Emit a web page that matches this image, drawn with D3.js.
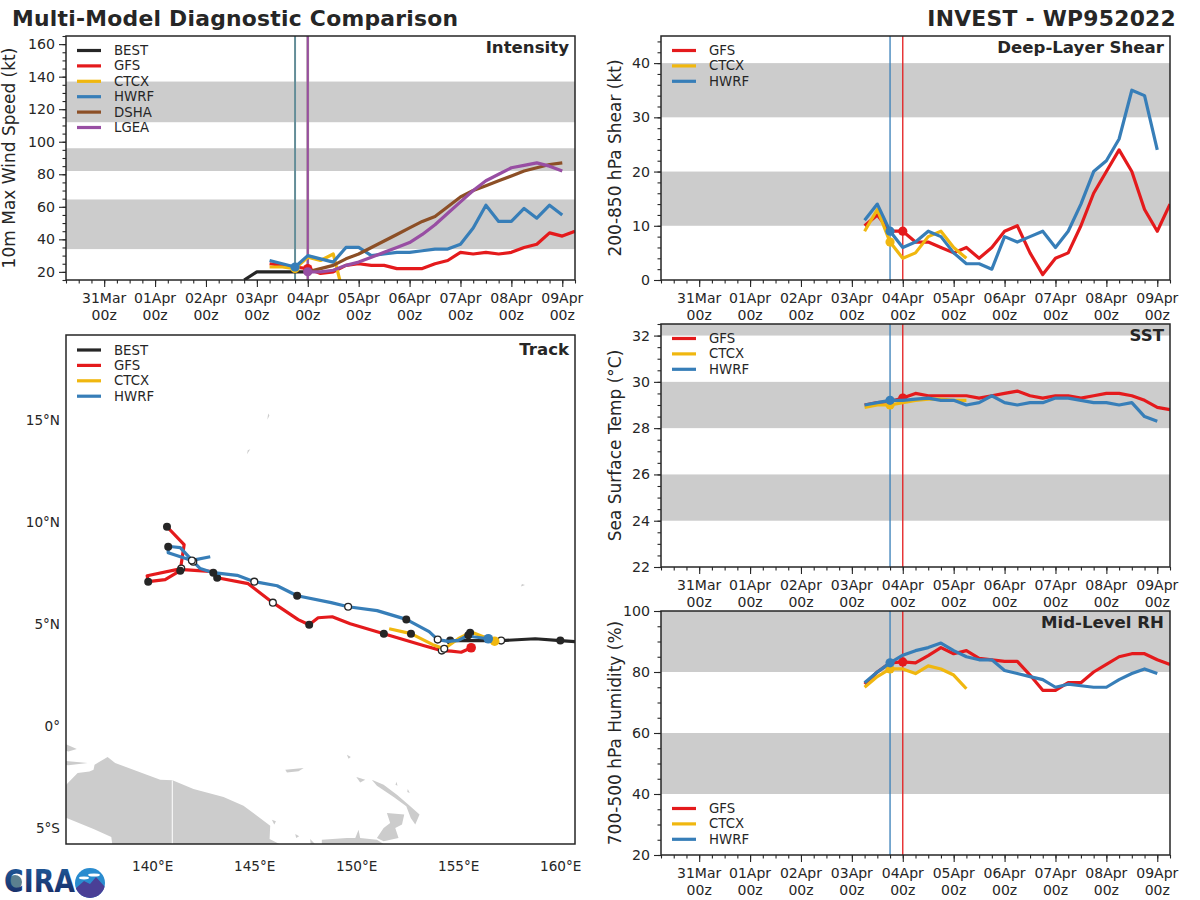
<!DOCTYPE html>
<html>
<head>
<meta charset="utf-8">
<style>
  html, body { margin: 0; padding: 0; background: #fff; }
  text { font-family: "DejaVu Sans", sans-serif; fill: #262626; }
</style>
<script src="https://d3js.org/d3.v7.min.js"></script>
</head>
<body>
<svg id="chart" width="1200" height="900"></svg>
<script>
// Time axis, hours after 31Mar 00z
var dayLabels = ["31Mar", "01Apr", "02Apr", "03Apr", "04Apr", "05Apr", "06Apr", "07Apr", "08Apr", "09Apr"];
var dayHours = [0, 24, 48, 72, 96, 120, 144, 168, 192, 216];

// Intensity (kt)
var bestWind = [15, 20, 20, 20, 20, 20];
var gfsWind = [25, 24, 23, 22, 19, 20, 24, 25, 24, 24, 22, 22, 22, 25, 27, 32, 31, 32, 31, 32, 35, 37, 44, 42, 45];
var ctcxWind = [23, 23, 22, 29, 27, 31, 0];
var hwrfWind = [27, 25, 23, 30, 28, 26, 35, 35, 30, 31, 32, 32, 33, 34, 34, 37, 47, 61, 51, 51, 59, 53, 61, 55];
var dshaWind = [20, 22, 24, 28, 31, 35, 39, 43, 47, 51, 54, 60, 66, 70, 73, 76, 79, 82, 84, 86, 87];
var lgeaWind = [20, 20, 21, 24, 26, 29, 32, 35, 38, 43, 49, 56, 63, 70, 76, 80, 84, 85.5, 87, 85, 82];

// Deep-layer shear (kt)
var gfsShear = [10, 12, 9, 9, 7, 7, 6, 5, 6, 4, 6, 9, 10, 5, 1, 4, 5, 10, 16, 20, 24, 20, 13, 9, 14];
var ctcxShear = [9, 13, 7, 4, 5, 8, 9, 6, 4];
var hwrfShear = [11, 14, 9, 6, 7, 9, 8, 5, 3, 3, 2, 8, 7, 8, 9, 6, 9, 14, 20, 22, 26, 35, 34, 24];

// Sea surface temperature (C)
var gfsSst = [29, 29.1, 29.15, 29.3, 29.5, 29.4, 29.4, 29.4, 29.4, 29.3, 29.4, 29.5, 29.6, 29.4, 29.3, 29.4, 29.4, 29.3, 29.4, 29.5, 29.5, 29.4, 29.2, 28.9, 28.8];
var ctcxSst = [28.9, 29, 29, 29.1, 29.2, 29.25, 29.25, 29.2, 29.2];
var hwrfSst = [29, 29.1, 29.2, 29.2, 29.25, 29.3, 29.2, 29.2, 29, 29.1, 29.4, 29.1, 29, 29.1, 29.1, 29.3, 29.3, 29.2, 29.1, 29.1, 29, 29.1, 28.5, 28.3];

// Mid-level humidity (%)
var gfsRh = [76, 80, 83, 83.3, 83, 85.4, 88, 86, 87, 84.5, 84, 83.5, 83.5, 79, 74, 74, 76.5, 76.5, 80, 82.5, 85, 86, 86, 84, 82.5];
var ctcxRh = [75, 78.5, 81, 81, 79.5, 82, 81, 79, 74.5];
var hwrfRh = [76.5, 80, 83, 85.5, 87, 88, 89.5, 87, 85, 84, 84, 80.5, 79.5, 78.5, 77.5, 75, 76, 75.5, 75, 75, 77.5, 79.5, 81, 79.5];

// Track positions, mark: 0 none, 1 filled dot, 2 open dot, 3 model colour dot
var bestLon = [161.45, 159.98, 158.75, 157.08, 155.56, 154.58];
var bestLat = [4.07, 4.17, 4.26, 4.17, 4.17, 4.17];
var bestMark = [0, 1, 0, 2, 0, 1];
var gfsLon = [155.61, 155.12, 154.63, 154.17, 153.31, 151.33, 149.68, 148.8, 148.11, 147.67, 147.13, 145.89, 144.68, 143.16, 142.97, 141.5, 141.4, 139.73, 139.78, 140.61, 141.35, 141.54, 140.7];
var gfsLat = [3.82, 3.6, 3.65, 3.68, 3.92, 4.51, 5, 5.34, 5.29, 4.95, 5.2, 6.03, 6.96, 7.25, 7.55, 7.65, 7.7, 7.35, 7.06, 7.16, 7.6, 8.87, 9.75];
var gfsMark = [3, 0, 0, 2, 0, 1, 0, 0, 0, 1, 0, 2, 0, 1, 0, 0, 2, 0, 1, 0, 1, 0, 1];
var ctcxLon = [156.76, 155.71, 155.56, 154.98, 154.29, 153.73, 152.66, 151.59];
var ctcxLat = [4.14, 4.56, 4.56, 4.26, 3.77, 3.97, 4.51, 4.75];
var ctcxMark = [3, 0, 1, 0, 2, 0, 1, 0];
var hwrfLon = [156.45, 155.71, 155.47, 154.98, 154.49, 153.97, 153.55, 152.43, 151, 149.58, 148.75, 147.08, 146.1, 144.98, 144.14, 142.97, 142.33, 141.99, 141.35, 140.96, 140.76, 140.76, 141.92, 142.82];
var hwrfLat = [4.26, 4.36, 4.43, 4.18, 4.13, 4.22, 4.61, 5.21, 5.64, 5.83, 6.03, 6.37, 6.86, 7.06, 7.37, 7.5, 7.7, 8.04, 8.73, 8.77, 8.77, 8.48, 8.1, 8.28];
var hwrfMark = [3, 0, 1, 0, 0, 2, 0, 1, 0, 2, 0, 1, 0, 2, 0, 1, 0, 2, 0, 0, 1, 0, 2, 0];

// Land outlines, [lon, lat]
var landShapes = [
  [[135.6, -3.06], [135.9, -2.75], [136.32, -2.32], [136.9, -2.25], [137.1, -2.16], [137.15, -1.91], [137.79, -1.54], [138.16, -1.83], [139.71, -2.4], [140.37, -2.65], [140.97, -2.68], [142, -3.1], [143.47, -3.5], [144.45, -3.92], [145.11, -4.41], [145.76, -4.9], [145.73, -5.56], [146.41, -5.9], [138.03, -5.9], [137.97, -5.46], [137.1, -5.07], [135.6, -4.45]],
  [[135.6, -0.85], [136.28, -1.14], [135.87, -1.26], [135.6, -1.2]],
  [[135.6, -1.72], [136.81, -1.83], [135.87, -1.94], [135.6, -1.9]],
  [[146.5, -2.16], [147.4, -2.08], [147.15, -2.24], [146.58, -2.29]],
  [[149.52, -1.42], [149.71, -1.54], [149.6, -1.62]],
  [[149.98, -2.52], [150.42, -2.65], [150.17, -2.78]],
  [[150.74, -2.65], [151.32, -2.89], [151.97, -3.38], [152.54, -3.87], [153.08, -4.36], [152.87, -4.85], [152.65, -4.53], [152.43, -3.95], [151.81, -3.5], [150.99, -2.94]],
  [[151.48, -4.28], [152.33, -4.36], [152.22, -4.85], [151.89, -5.02], [152.05, -5.51], [151.32, -5.67], [150.99, -5.51], [151.32, -5.02], [151.64, -4.77], [151.56, -4.53]],
  [[148.29, -5.59], [149.52, -5.51], [149.93, -5.51], [150.09, -5.1], [150.17, -5.51], [150.99, -5.59], [151.48, -5.9], [148.29, -5.9]],
  [[147.72, -5.56], [148.05, -5.9], [147.75, -5.9]],
  [[145.84, -4.61], [146.04, -4.69], [145.96, -4.85]],
  [[146.99, -5.31], [147.18, -5.42], [147.03, -5.51]],
  [[151.95, -2.75], [152, -2.95], [151.9, -2.9]],
  [[152.5, -3.1], [152.6, -3.3], [152.48, -3.25]],
  [[145.62, 15.0], [145.72, 15.2], [145.66, 15.3]],
  [[144.62, 13.3], [144.78, 13.55], [144.66, 13.5]],
  [[158.05, 6.82], [158.25, 6.9], [158.1, 6.95]]
];
var borderLon = [140.96, 140.96];
var borderLat = [-2.68, -5.9];

var colors = {
  BEST: "#262626",
  GFS: "#e41a1c",
  CTCX: "#f0b70f",
  HWRF: "#377eb8",
  DSHA: "#8c4f26",
  LGEA: "#984ea3"
};
var ink = "#262626";
var bandGrey = "#cccccc";

var svg = d3.select("#chart");
var clipCount = 0;

// 6 hourly series starting at a given hour
function toPoints(values, startHour) {
  return values.map((v, i) => [startHour + i * 6, v]);
}

function addClip(x0, y0, w, h) {
  var id = "clip" + (clipCount++);
  svg.append("clipPath").attr("id", id)
    .append("rect").attr("x", x0).attr("y", y0).attr("width", w).attr("height", h);
  return "url(#" + id + ")";
}

function drawLegend(x0, y0, names) {
  names.forEach((name, i) => {
    var y = y0 + i * 15.4;
    svg.append("line").attr("x1", x0).attr("x2", x0 + 24).attr("y1", y).attr("y2", y)
      .attr("stroke", colors[name]).attr("stroke-width", 3.2);
    svg.append("text").attr("x", x0 + 37).attr("y", y + 4.5)
      .attr("font-size", 13.3).text(name);
  });
}

function drawFrame(box) {
  svg.append("rect").attr("x", box.x).attr("y", box.y)
    .attr("width", box.w).attr("height", box.h)
    .attr("fill", "none").attr("stroke", ink).attr("stroke-width", 1.5);
}

function drawPanel(opt) {
  var box = opt.box;
  var x = d3.scaleLinear().domain([-18, 222]).range([box.x, box.x + box.w]);
  var y = d3.scaleLinear().domain(opt.yDomain).range([box.y + box.h, box.y]);
  var clip = addClip(box.x, box.y, box.w, box.h);
  var plot = svg.append("g").attr("clip-path", clip);

  // Grey intensity / threshold bands
  opt.bands.forEach((b) => {
    plot.append("rect").attr("x", box.x).attr("width", box.w)
      .attr("y", y(b[1])).attr("height", y(b[0]) - y(b[1]))
      .attr("fill", bandGrey);
  });

  // Initial time markers
  opt.initLines.forEach((l) => {
    plot.append("line").attr("x1", x(l.hour)).attr("x2", x(l.hour))
      .attr("y1", box.y).attr("y2", box.y + box.h)
      .attr("stroke", l.color || colors[l.name]).attr("stroke-width", l.width);
  });

  var line = d3.line().x((d) => x(d[0])).y((d) => y(d[1]));
  opt.series.forEach((s) => {
    plot.append("path").datum(toPoints(s.values, s.start))
      .attr("d", line).attr("fill", "none")
      .attr("stroke", colors[s.name]).attr("stroke-width", 3.2)
      .attr("stroke-linejoin", "round");
    if (s.initHour !== undefined) {
      plot.append("circle").attr("cx", x(s.initHour))
        .attr("cy", y(s.values[(s.initHour - s.start) / 6]))
        .attr("r", 4.6).attr("fill", colors[s.name]);
    }
  });

  // Axes
  var left = svg.append("g").attr("transform", "translate(" + box.x + ",0)")
    .call(d3.axisLeft(y).tickValues(opt.yTicks).tickSize(7).tickPadding(4).tickFormat(d3.format("d")));
  var leftMinor = svg.append("g").attr("transform", "translate(" + box.x + ",0)")
    .call(d3.axisLeft(y).tickValues(opt.yMinor).tickSize(3.5).tickFormat(""));
  var bottomY = box.y + box.h;
  var bottomMinor = svg.append("g").attr("transform", "translate(0," + bottomY + ")")
    .call(d3.axisBottom(x).tickValues(d3.range(-18, 223, 6)).tickSize(3.5).tickFormat(""));
  var bottom = svg.append("g").attr("transform", "translate(0," + bottomY + ")")
    .call(d3.axisBottom(x).tickValues(dayHours).tickSize(7).tickFormat(""));
  [left, leftMinor, bottom, bottomMinor].forEach((g) => {
    g.select(".domain").remove();
    g.selectAll("line").attr("stroke", ink).attr("stroke-width", 1.1);
  });
  left.selectAll("text").attr("font-size", 14.2).attr("font-family", "DejaVu Sans").attr("fill", ink);

  dayHours.forEach((h, i) => {
    var t = svg.append("text").attr("text-anchor", "middle").attr("font-size", 14);
    t.append("tspan").attr("x", x(h)).attr("y", bottomY + 22.5).text(dayLabels[i]);
    t.append("tspan").attr("x", x(h)).attr("y", bottomY + 40).text("00z");
  });

  svg.append("text").attr("text-anchor", "middle")
    .attr("transform", "translate(" + opt.labelX + "," + (box.y + box.h / 2) + ") rotate(-90)")
    .attr("font-size", 17).text(opt.yLabel);

  drawFrame(box);

  svg.append("text").attr("x", box.x + box.w - 6).attr("y", box.y + 17)
    .attr("text-anchor", "end").attr("font-size", 16.6).attr("font-weight", "bold")
    .text(opt.title);

  opt.legends.forEach((l) => drawLegend(box.x + 11, l.y, l.names));
}

// Title
svg.append("text").attr("x", 12).attr("y", 26).attr("font-size", 21.85)
  .attr("font-weight", "bold").attr("letter-spacing", 0.25)
  .text("Multi-Model Diagnostic Comparison");
svg.append("text").attr("x", 1176).attr("y", 26).attr("text-anchor", "end").attr("font-size", 21.85)
  .attr("font-weight", "bold").attr("letter-spacing", 0.25)
  .text("INVEST - WP952022");

var init18 = 90;
var init00 = 96;
var firstHour = 78;

drawPanel({
  box: { x: 66, y: 36, w: 509, h: 244 },
  yDomain: [15, 165],
  yTicks: d3.range(20, 161, 20),
  yMinor: d3.range(15, 166, 5),
  yLabel: "10m Max Wind Speed (kt)",
  labelX: 15,
  title: "Intensity",
  bands: [[34, 64.5], [82, 96], [112, 137]],
  initLines: [
    { hour: init18, name: "CTCX", color: "#98a07a", width: 2 },
    { hour: init18, name: "HWRF", width: 1 },
    { hour: init00, name: "DSHA", color: "#a08a86", width: 2.6 },
    { hour: init00, name: "LGEA", width: 1.9 }
  ],
  series: [
    { name: "BEST", values: bestWind, start: 66 },
    { name: "GFS", values: gfsWind, start: firstHour, initHour: init00 },
    { name: "CTCX", values: ctcxWind, start: firstHour, initHour: init18 },
    { name: "HWRF", values: hwrfWind, start: firstHour, initHour: init18 },
    { name: "DSHA", values: dshaWind, start: init00 },
    { name: "LGEA", values: lgeaWind, start: init00, initHour: init00 }
  ],
  legends: [{ y: 50.5, names: ["BEST", "GFS", "CTCX", "HWRF", "DSHA", "LGEA"] }]
});

var rightLines = [
  { hour: init18, name: "HWRF", width: 1.3 },
  { hour: init00, name: "GFS", width: 1.3 }
];
function modelSeries(gfs, ctcx, hwrf) {
  return [
    { name: "GFS", values: gfs, start: firstHour, initHour: init00 },
    { name: "CTCX", values: ctcx, start: firstHour, initHour: init18 },
    { name: "HWRF", values: hwrf, start: firstHour, initHour: init18 }
  ];
}
var modelNames = ["GFS", "CTCX", "HWRF"];

drawPanel({
  box: { x: 661, y: 36, w: 509, h: 244 },
  yDomain: [0, 45],
  yTicks: d3.range(0, 41, 10),
  yMinor: d3.range(0, 46, 2),
  yLabel: "200-850 hPa Shear (kt)",
  labelX: 621,
  title: "Deep-Layer Shear",
  bands: [[10, 20], [30, 40]],
  initLines: rightLines,
  series: modelSeries(gfsShear, ctcxShear, hwrfShear),
  legends: [{ y: 50.5, names: modelNames }]
});

drawPanel({
  box: { x: 661, y: 324, w: 509, h: 243 },
  yDomain: [22, 32.5],
  yTicks: d3.range(22, 33, 2),
  yMinor: d3.range(22, 32.6, 0.5),
  yLabel: "Sea Surface Temp (°C)",
  labelX: 621,
  title: "SST",
  bands: [[24, 26], [28, 30], [32, 34]],
  initLines: rightLines,
  series: modelSeries(gfsSst, ctcxSst, hwrfSst),
  legends: [{ y: 338.5, names: modelNames }]
});

drawPanel({
  box: { x: 661, y: 611, w: 509, h: 244 },
  yDomain: [20, 100],
  yTicks: d3.range(20, 101, 20),
  yMinor: d3.range(20, 101, 5),
  yLabel: "700-500 hPa Humidity (%)",
  labelX: 621,
  title: "Mid-Level RH",
  bands: [[40, 60], [80, 100]],
  initLines: rightLines,
  series: modelSeries(gfsRh, ctcxRh, hwrfRh),
  legends: [{ y: 808.5, names: modelNames }]
});

// Track map
function drawTrack() {
  var box = { x: 66, y: 335, w: 509, h: 509 };
  var lonScale = d3.scaleLinear().domain([135.75, 160.7]).range([box.x, box.x + box.w]);
  var latScale = d3.scaleLinear().domain([-5.8, 19.15]).range([box.y + box.h, box.y]);
  var plot = svg.append("g").attr("clip-path", addClip(box.x, box.y, box.w, box.h));
  var line = d3.line().x((d) => lonScale(d[0])).y((d) => latScale(d[1]));

  landShapes.forEach((shape) => {
    plot.append("path").attr("d", line(shape) + "Z").attr("fill", bandGrey);
  });
  plot.append("path").attr("d", line(d3.zip(borderLon, borderLat)))
    .attr("stroke", "#fff").attr("stroke-width", 1).attr("fill", "none");

  var tracks = [
    { name: "BEST", lon: bestLon, lat: bestLat, mark: bestMark },
    { name: "GFS", lon: gfsLon, lat: gfsLat, mark: gfsMark },
    { name: "CTCX", lon: ctcxLon, lat: ctcxLat, mark: ctcxMark },
    { name: "HWRF", lon: hwrfLon, lat: hwrfLat, mark: hwrfMark }
  ];
  tracks.forEach((t) => {
    plot.append("path").attr("d", line(d3.zip(t.lon, t.lat)))
      .attr("fill", "none").attr("stroke", colors[t.name]).attr("stroke-width", 3.2)
      .attr("stroke-linejoin", "round");
    t.mark.forEach((m, i) => {
      if (m === 0) return;
      var dot = plot.append("circle").attr("cx", lonScale(t.lon[i])).attr("cy", latScale(t.lat[i]));
      if (m === 1) dot.attr("r", 4).attr("fill", ink);
      if (m === 2) dot.attr("r", 3.4).attr("fill", "#fff").attr("stroke", ink).attr("stroke-width", 1.3);
      if (m === 3) dot.attr("r", 4.8).attr("fill", colors[t.name]);
    });
  });

  [[140, "140°E"], [145, "145°E"], [150, "150°E"], [155, "155°E"], [160, "160°E"]].forEach((d) => {
    svg.append("text").attr("x", lonScale(d[0])).attr("y", 871)
      .attr("text-anchor", "middle").attr("font-size", 13.6).text(d[1]);
  });
  [[15, "15°N"], [10, "10°N"], [5, "5°N"], [0, "0°"], [-5, "5°S"]].forEach((d) => {
    svg.append("text").attr("x", 60).attr("y", latScale(d[0]) + 5)
      .attr("text-anchor", "end").attr("font-size", 13.6).text(d[1]);
  });

  drawFrame(box);
  svg.append("text").attr("x", box.x + box.w - 6).attr("y", box.y + 20)
    .attr("text-anchor", "end").attr("font-size", 16.6).attr("font-weight", "bold")
    .text("Track");
  drawLegend(box.x + 11, 350, ["BEST", "GFS", "CTCX", "HWRF"]);
}
drawTrack();

// Logo
function drawLogo() {
  var defs = svg.append("defs");
  var grad = defs.append("linearGradient").attr("id", "logoBlue")
    .attr("x1", 0).attr("x2", 0).attr("y1", 0).attr("y2", 1);
  grad.append("stop").attr("offset", "0%").attr("stop-color", "#1f5f9f");
  grad.append("stop").attr("offset", "100%").attr("stop-color", "#18255e");
  svg.append("circle").attr("cx", 15).attr("cy", 882).attr("r", 7).attr("fill", "#5b7f8f");
  svg.append("text").attr("x", 4).attr("y", 892)
    .attr("font-family", "Liberation Serif").attr("font-weight", "bold")
    .attr("font-size", 32).attr("textLength", 71).attr("lengthAdjust", "spacingAndGlyphs")
    .style("fill", "url(#logoBlue)").text("CIRA");
  defs.append("clipPath").attr("id", "logoDisc")
    .append("circle").attr("cx", 90).attr("cy", 883).attr("r", 15);
  var g = svg.append("g").attr("clip-path", "url(#logoDisc)");
  g.append("rect").attr("x", 75).attr("y", 868).attr("width", 30).attr("height", 30).attr("fill", "#2a8ccf");
  g.append("path").attr("d", "M75 889L84 881L90 884L96 877L105 887L105 898L75 898Z").attr("fill", "#4a3f96");
  g.append("ellipse").attr("cx", 94).attr("cy", 875).attr("rx", 6).attr("ry", 1.6).attr("fill", "#fff");
  g.append("ellipse").attr("cx", 84).attr("cy", 878).attr("rx", 5).attr("ry", 1.4).attr("fill", "#fff");
}
drawLogo();
</script>
</body>
</html>
